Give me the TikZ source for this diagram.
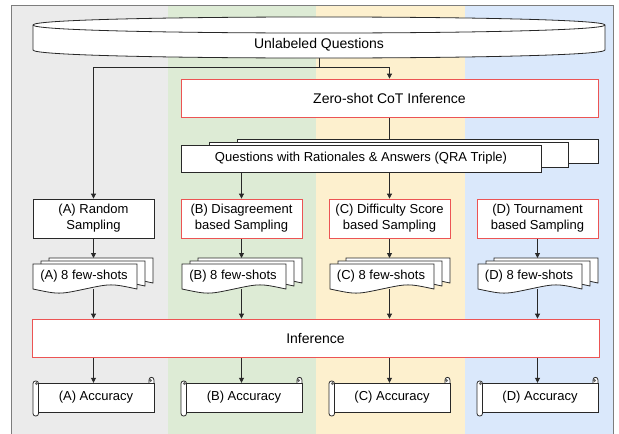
\documentclass[tikz,border=0pt]{standalone}
\usepackage{fontspec}
\setmainfont{Liberation Sans}
\usetikzlibrary{arrows.meta}

\definecolor{bggrey}{RGB}{235,235,235}
\definecolor{bggreen}{RGB}{221,235,213}
\definecolor{bgyellow}{RGB}{253,240,206}
\definecolor{bgblue}{RGB}{218,232,251}
\definecolor{framegrey}{RGB}{125,125,125}
\definecolor{hired}{RGB}{236,84,84}
\definecolor{ink}{RGB}{40,40,40}

\pgfdeclarelayer{bg}
\pgfdeclarelayer{wires}
\pgfsetlayers{bg,wires,main}

\tikzset{
  txt/.style={inner sep=0pt, align=center, font=\fontsize{13}{16}\selectfont},
  bigtxt/.style={inner sep=0pt, align=center, font=\fontsize{14}{16}\selectfont},
  box/.style={txt, draw=ink, line width=0.8pt, fill=white,
              minimum width=121pt, minimum height=39pt},
  redbox/.style={box, draw=hired},
  sheet/.style={draw=ink, line width=0.8pt, fill=white},
  wire/.style={draw=ink, line width=0.8pt},
  arr/.style={wire, -{Triangle[length=5pt,width=5pt]}},
}

% one page of a document shape: left x, top y, 104 wide, wavy bottom
\newcommand\docsheet[2]{%
  \path[sheet] (#1,#2) -- (#1+104,#2) -- (#1+104,#2+25)
    .. controls (#1+78,#2+19.5) .. (#1+52,#2+25)
    .. controls (#1+26,#2+30.5) .. (#1,#2+25) -- cycle;}

% stack of three pages with a label: name, left x, text
\newcommand\fewstack[3]{%
  \docsheet{#2+16}{258}
  \docsheet{#2+8}{261}
  \docsheet{#2}{264}
  \node[txt, minimum width=104pt, minimum height=25pt] (#1) at (#2+51,276.5) {#3};
  \coordinate (#1top) at (#2+60,258);
}

% horizontal scroll with a label: name, left x, text
\newcommand\scrollsheet[3]{%
  \path[sheet] (#2+116,383) -- (#2+116,380) .. controls (#2+116,376.5) and (#2+121,376.5) .. (#2+121,380) -- (#2+121,383);
  \fill[ink!70] (#2+117.5,380.5) circle[radius=1.6pt];
  \path[sheet] (#2+5,383) rectangle (#2+121,412);
  \path[sheet, rounded corners=2.5pt] (#2,381) rectangle (#2+5.5,416);
  \fill[ink!70] (#2+3.5,383.5) circle[radius=1.6pt];
  \node[txt, minimum width=116pt, minimum height=29pt] (#1) at (#2+63,397.5) {#3};
}

\begin{document}
\begin{tikzpicture}[x=1pt, y=-1pt]
\useasboundingbox (0,0) rectangle (619,434);

% column backgrounds and frame
\begin{pgfonlayer}{bg}
  \fill[bggrey]   (11,5) rectangle (168,440);
  \fill[bggreen]  (168,5) rectangle (316,440);
  \fill[bgyellow] (316,5) rectangle (465,440);
  \fill[bgblue]   (465,5) rectangle (613,440);
  \draw[framegrey, line width=0.8pt] (11,5) rectangle (613,440);
\end{pgfonlayer}

% data store at the top
\path[sheet] (33,25) .. controls (33,14.3) and (605,14.3) .. (605,25) -- (605,50)
  .. controls (605,60.7) and (33,60.7) .. (33,50) -- cycle;
\draw[wire] (33,25) .. controls (33,35.7) and (605,35.7) .. (605,25);
\node[bigtxt, minimum width=572pt, minimum height=26pt] (uq) at (319,45) {Unlabeled Questions};

% zero-shot stage
\node[box, draw=hired, font=\fontsize{14}{16}\selectfont,
      minimum width=417pt, minimum height=38pt] (zs) at (389.5,98) {Zero-shot CoT Inference};

% stacked QRA triples
\path[sheet] (237,139) rectangle (598,163);
\path[sheet] (209,142) rectangle (568,167);
\node[box, minimum width=360pt, minimum height=27pt] (qra) at (361,158.5)
  {Questions with Rationales \& Answers (QRA Triple)};

% sampling strategies
\node[box]    (sa) at (93.5,218.5)  {(A) Random\\Sampling};
\node[redbox] (sb) at (241.5,218.5) {(B) Disagreement\\based Sampling};
\node[redbox] (sc) at (389.5,218.5) {(C) Difficulty Score\\based Sampling};
\node[redbox] (sd) at (537.5,218.5) {(D) Tournament\\based Sampling};

% selected demonstrations
\fewstack{fa}{33}{(A) 8 few-shots}
\fewstack{fb}{182}{(B) 8 few-shots}
\fewstack{fc}{330}{(C) 8 few-shots}
\fewstack{fd}{478}{(D) 8 few-shots}

% final inference
\node[box, draw=hired, font=\fontsize{14}{16}\selectfont,
      minimum width=567pt, minimum height=38pt] (inf) at (315.5,338) {Inference};

% results
\scrollsheet{aa}{33}{(A) Accuracy}
\scrollsheet{ab}{181}{(B) Accuracy}
\scrollsheet{ac}{329}{(C) Accuracy}
\scrollsheet{ad}{477}{(D) Accuracy}

% connectors
\begin{pgfonlayer}{wires}
  \coordinate (split) at (319,67);
  \draw[wire] (uq.south) -- (split);
  \draw[arr] (split) -| (zs.north);
  \draw[arr] (split) -| (sa.north);
  \draw[arr] (zs.south) -- (zs.south |- qra.north);
  \draw[arr] (qra.south -| sb.north) -- (sb.north);
  \draw[arr] (qra.south -| sc.north) -- (sc.north);
  \foreach \s/\f/\a in {sa/fa/aa, sb/fb/ab, sc/fc/ac, sd/fd/ad} {
    \draw[arr] (\s.south) -- (\s.south |- \f top);
    \draw[arr] (\f.south -| \s.south) -- (inf.north -| \s.south);
    \draw[arr] (inf.south -| \s.south) -- (\a.north -| \s.south);
  }
\end{pgfonlayer}
\end{tikzpicture}
\end{document}
